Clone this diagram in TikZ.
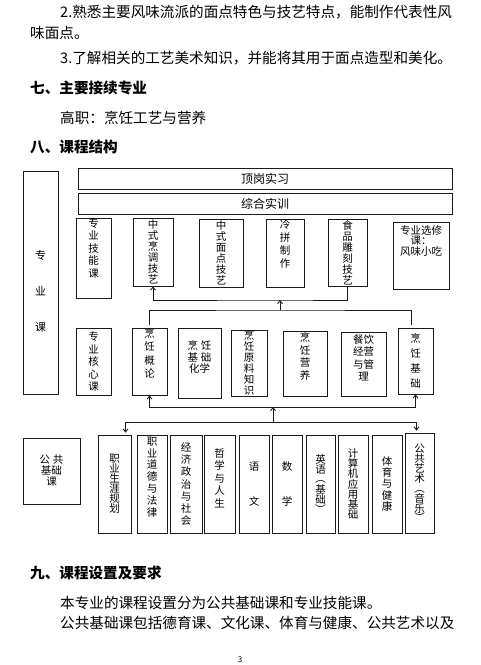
\documentclass[tikz,border=0pt]{standalone}
\usepackage{fontspec}
\setmainfont{Noto Sans CJK SC}
\usetikzlibrary{arrows.meta,positioning,calc}
\definecolor{ink}{HTML}{1A1A1A}

\tikzset{
  cbox/.style={draw=ink,line width=0.9pt,inner sep=0pt},
  vtext/.style={align=center,inner sep=0pt,font=\fontsize{10.5}{#1}\selectfont},
  vtext/.default=12,
  para/.style={anchor=west,inner sep=0pt,font=\fontsize{14.6}{16}\selectfont},
  head/.style={para,font=\fontsize{14.6}{16}\selectfont\bfseries},
  bus/.style={draw=ink,line width=0.9pt},
  arr/.style={bus,-{Straight Barb[length=3pt,width=5pt]}}
}

\begin{document}
\begin{tikzpicture}[x=1pt,y=-1pt]
\useasboundingbox[fill=white] (0,0) rectangle (480,665);
\node[para] (l1) at (60,12) {2.熟悉主要风味流派的面点特色与技艺特点，能制作代表性风};
\node[para] (l2) at (30,33) {味面点。};
\node[para] (l3) at (60,58) {3.了解相关的工艺美术知识，并能将其用于面点造型和美化。};
\node[head] (h7) at (30,88) {七、主要接续专业};
\node[para] (gaozhi) at (60,118) {高职：烹饪工艺与营养};
\node[head] (h8) at (30,147) {八、课程结构};

\node[cbox,minimum width=35,minimum height=223,label={[vtext=36,font=\fontsize{11}{36}\selectfont,yshift=-8.5pt]center:专\\业\\课}] (zhuanye) at (40.5,282.5) {};
\node[cbox,minimum width=374,minimum height=21,font=\fontsize{12}{12}\selectfont] (dinggang) at (265,178.5) {顶岗实习};
\node[cbox,minimum width=374,minimum height=21,font=\fontsize{12}{12}\selectfont] (zonghe) at (265,203.5) {综合实训};

\node[cbox,minimum width=35,minimum height=80,label={[vtext=12.5,yshift=10pt]center:专\\业\\技\\能\\课}] (jineng) at (93.5,258) {};
\node[cbox,vtext=11,minimum width=40,minimum height=68] (pengtiao) at (153,252) {中\\式\\烹\\调\\技\\艺};
\node[cbox,vtext=11,minimum width=44,minimum height=68] (miandian) at (221,253) {中\\式\\面\\点\\技\\艺};
\node[cbox,minimum width=38,minimum height=68,label={[vtext=12.7,yshift=9pt]center:冷\\拼\\制\\作}] (lengpin) at (285,253) {};
\node[cbox,vtext=11,minimum width=39,minimum height=67] (diaoke) at (347.5,252.5) {食\\品\\雕\\刻\\技\\艺};
\node[cbox,minimum width=56,minimum height=67,label={[vtext=10.5,yshift=15pt]center:专业选修\\课：\\风味小吃}] (xuanxiu) at (421,255.5) {};

\node[cbox,vtext=12.5,minimum width=35,minimum height=67] (hexin) at (93.5,361.5) {专\\业\\核\\心\\课};
\node[cbox,minimum width=35,minimum height=67,label={[vtext=13.3,yshift=8pt]center:烹\\饪\\概\\论}] (gailun) at (149.5,361.5) {};
\node[cbox,minimum width=43,minimum height=70,label={[vtext=11.5,yshift=6pt]center:烹\hspace{3pt}饪\\基\hspace{3pt}础\\化学}] (huaxue) at (199.5,363) {};
\node[cbox,vtext=11,minimum width=36,minimum height=66] (yuanliao) at (249,363) {烹\\饪\\原\\料\\知\\识};
\node[cbox,minimum width=44,minimum height=65,label={[vtext=12.7,yshift=7pt]center:烹\\饪\\营\\养}] (yingyang) at (305,363.5) {};
\node[cbox,minimum width=45,minimum height=64,label={[vtext=12.5,yshift=6pt]center:餐饮\\经营\\与管\\理}] (guanli) at (363.5,364) {};
\node[cbox,vtext=15,minimum width=35,minimum height=66] (jichu) at (415.5,361) {烹\\饪\\基\\础};

\node[cbox,vtext=11,minimum width=57,minimum height=66] (gonggong) at (51.5,471) {公\hspace{3pt}共\\基础\\课};
\node[cbox,vtext=10,minimum width=33,minimum height=98] (shengya) at (114.5,484) {职\\业\\生\\涯\\规\\划};
\node[cbox,minimum width=30,minimum height=98,label={[vtext=11.8,yshift=7pt]center:职\\业\\道\\德\\与\\法\\律}] (daode) at (152,484) {};
\node[cbox,vtext=12.3,minimum width=32,minimum height=98] (jingji) at (186,484) {经\\济\\政\\治\\与\\社\\会};
\node[cbox,minimum width=31,minimum height=98,label={[vtext=12.5,yshift=6pt]center:哲\\学\\与\\人\\生}] (zhexue) at (219.5,484) {};
\node[cbox,vtext=35,minimum width=30,minimum height=98] (yuwen) at (254,484) {语\\文};
\node[cbox,vtext=35,minimum width=30,minimum height=98] (shuxue) at (287,484) {数\\学};
\node[cbox,vtext=9,minimum width=29,minimum height=98] (yingyu) at (320.5,484) {英\\语\\︵\\基\\础\\︶};
\node[cbox,vtext=10.3,minimum width=30,minimum height=98] (jisuanji) at (353,484) {计\\算\\机\\应\\用\\基\\础};
\node[cbox,vtext=11.2,minimum width=30,minimum height=98] (tiyu) at (387,484) {体\\育\\与\\健\\康};
\node[cbox,vtext=9.9,minimum width=29,minimum height=100] (yishu) at (419.5,483) {公\\共\\艺\\术\\︵\\音\\乐\\︶};

\coordinate (upbus) at (280,300);
\coordinate (midbus) at (280,310);
\coordinate (lowbus) at (273,407);
\coordinate (basebus) at (273,422);
\draw[arr] (diaoke.south) |- (upbus) -| (pengtiao.south);
\draw[arr] (midbus) -- (upbus);
\draw[bus] ([yshift=3pt]gailun.north) |- (midbus) -| ([xshift=-4pt,yshift=3pt]jichu.north);
\draw[arr] (lowbus) -| (gailun.south);
\draw[arr] (lowbus) -| (jichu.south);
\draw[arr] (basebus) -- (lowbus);
\draw[arr,shorten >=2pt] (basebus) -| ([xshift=11pt]shengya.north);
\draw[arr,shorten >=2pt] (basebus) -| ([xshift=-3pt]yishu.north);

\node[head] (h9) at (30,573) {九、课程设置及要求};
\node[para] (l4) at (60,603) {本专业的课程设置分为公共基础课和专业技能课。};
\node[para] (l5) at (60,623) {公共基础课包括德育课、文化课、体育与健康、公共艺术以及};
\node[font=\fontsize{8}{9}\selectfont] (page) at (240,660) {3};
\end{tikzpicture}
\end{document}
